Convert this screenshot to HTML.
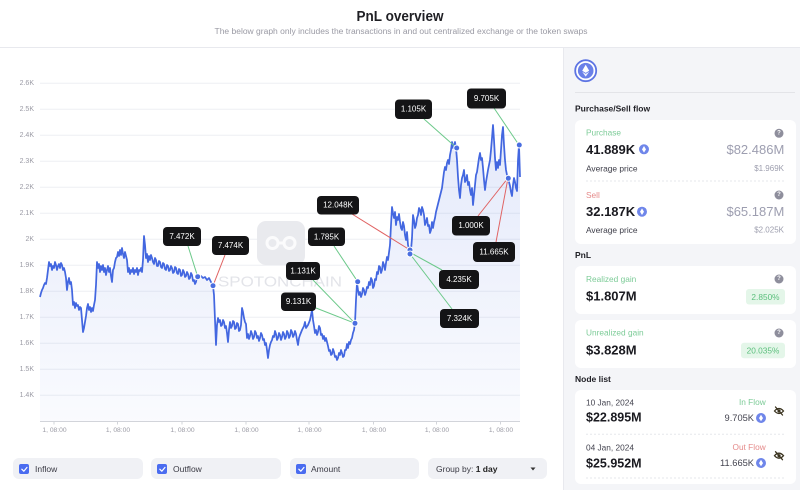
<!DOCTYPE html>
<html><head><meta charset="utf-8"><style>
html,body{margin:0;padding:0;background:#fff;}
svg{display:block;font-family:"Liberation Sans",sans-serif;}
</style></head><body>
<svg width="800" height="490" viewBox="0 0 800 490" xmlns="http://www.w3.org/2000/svg">
<defs>
<linearGradient id="ag" x1="0" y1="0" x2="0" y2="1">
<stop offset="0" stop-color="#4a6ee0" stop-opacity="0.15"/>
<stop offset="1" stop-color="#4a6ee0" stop-opacity="0.03"/>
</linearGradient>
</defs>
<rect width="800" height="490" fill="#fff"/>
<!-- header -->
<text x="400" y="17" text-anchor="middle" dominant-baseline="central" font-size="14.5" font-weight="bold" fill="#1f1f24" textLength="87" lengthAdjust="spacingAndGlyphs">PnL overview</text>
<text x="401" y="31.5" text-anchor="middle" dominant-baseline="central" font-size="8" fill="#9a9aa4" textLength="373" lengthAdjust="spacingAndGlyphs">The below graph only includes the transactions in and out centralized exchange or the token swaps</text>
<line x1="0" y1="47.5" x2="800" y2="47.5" stroke="#e8e9ee" stroke-width="1"/>

<!-- chart grid -->
<g stroke="#edeff3" stroke-width="1">
<line x1="40" x2="520" y1="83.3" y2="83.3"/><line x1="40" x2="520" y1="109.3" y2="109.3"/>
<line x1="40" x2="520" y1="135.3" y2="135.3"/><line x1="40" x2="520" y1="161.3" y2="161.3"/>
<line x1="40" x2="520" y1="187.3" y2="187.3"/><line x1="40" x2="520" y1="213.3" y2="213.3"/>
<line x1="40" x2="520" y1="239.3" y2="239.3"/><line x1="40" x2="520" y1="265.3" y2="265.3"/>
<line x1="40" x2="520" y1="291.3" y2="291.3"/><line x1="40" x2="520" y1="317.3" y2="317.3"/>
<line x1="40" x2="520" y1="343.3" y2="343.3"/><line x1="40" x2="520" y1="369.3" y2="369.3"/>
<line x1="40" x2="520" y1="395.3" y2="395.3"/>
</g>
<g font-size="7" fill="#9a9aa4" text-anchor="end" dominant-baseline="central">
<text x="34" y="83.3">2.6K</text><text x="34" y="109.3">2.5K</text><text x="34" y="135.3">2.4K</text>
<text x="34" y="161.3">2.3K</text><text x="34" y="187.3">2.2K</text><text x="34" y="213.3">2.1K</text>
<text x="34" y="239.3">2K</text><text x="34" y="265.3">1.9K</text><text x="34" y="291.3">1.8K</text>
<text x="34" y="317.3">1.7K</text><text x="34" y="343.3">1.6K</text><text x="34" y="369.3">1.5K</text>
<text x="34" y="395.3">1.4K</text>
</g>

<!-- watermark -->
<rect x="257" y="221" width="48" height="44" rx="9" fill="#e9eaee"/>
<g fill="none" stroke="#fbfbfc" stroke-width="3">
<circle cx="272.5" cy="243" r="5.5"/><circle cx="289.5" cy="243" r="5.5"/>
<line x1="278" y1="243" x2="284" y2="243"/>
</g>
<text x="218" y="282" dominant-baseline="central" font-size="15" fill="#e3e4e9" textLength="124" lengthAdjust="spacingAndGlyphs">SPOTONCHAIN</text>

<!-- area + line -->
<path fill="url(#ag)" stroke="none" d="M40,297 L41,293 42,290 43,288 44,285 45,283 46,284 47,278 48,270 49,262 50,266 51,264 52,270 53,266 54,268 55,262 56,265 57,270 58,266 59,264 60,268 61,263 62,265 63,270 64,268 65,272 66,278 67,290 68,282 69,278 70,284 71,282 72,290 73,305 74,302 75,308 76,303 77,306 78,305 79,310 80,307 81,308 82,320 83,332 84,328 85,322 86,316 87,308 88,304 89,310 90,307 91,312 92,308 93,311 94,305 95,300 96,285 97,262 98,268 99,264 100,272 101,266 102,270 103,265 104,272 105,268 106,275 107,270 108,266 109,272 110,268 111,276 112,282 113,270 114,268 115,262 116,258 117,257 118,252 119,256 120,250 121,255 122,248 123,254 124,258 125,252 126,256 127,260 128,272 129,268 130,274 131,270 132,272 133,268 134,274 135,270 136,272 137,268 138,275 139,270 140,271 141,268 142,272 143,260 144,236 145,245 146,258 147,254 148,262 149,256 150,260 152,258 154,264 156,260 158,266 160,262 162,268 164,264 166,270 168,266 170,270 172,268 174,272 176,268 178,274 180,270 182,275 184,272 186,276 188,274 190,278 192,275 194,280 196,282 197,277 199,278 201,276 203,278 205,277 207,280 209,278 211,282 213,286 214,295 215,320 216,345 217,325 218,318 219,322 220,320 222,325 224,322 226,326 228,342 229,330 230,322 232,326 234,322 236,328 238,324 240,330 241,325 242,308 243,312 244,318 245,322 246,324 247,338 248,334 250,336 252,334 254,337 256,333 258,336 260,338 262,335 264,339 266,343 267,350 268,358 269,350 270,345 272,340 274,337 276,334 278,338 280,335 282,337 284,334 286,337 288,333 290,336 292,332 294,335 296,334 298,345 299,338 300,335 302,330 304,326 305,322 306,328 308,325 310,320 311,315 312,310 313,320 314,326 316,330 318,332 320,328 322,334 324,336 326,338 327,342 328,346 330,350 332,354 334,352 336,356 338,358 340,355 342,353 344,356 346,350 348,348 350,344 352,338 354,330 355,323 356,300 357,283 358,290 359,295 360,292 362,294 364,290 366,292 368,288 370,285 372,280 374,286 376,280 378,274 380,267 382,270 384,265 386,263 388,260 390,245 391,225 392,207 393,213 394,218 396,225 398,220 400,222 402,230 404,226 405,235 406,240 408,245 410,252 411,250 412,238 413,215 414,220 416,225 418,215 420,210 422,207 424,215 426,222 427,218 429,225 431,230 433,228 435,218 437,208 439,200 441,192 442,188 443,180 444,172 445,167 446,170 448,160 450,155 451,150 452,142 453,148 454,145 456,148 457,160 458,177 459,190 460,198 461,185 462,178 463,175 465,182 466,180 468,185 470,190 471,195 473,205 474,195 475,185 476,175 478,165 480,153 481,160 483,168 484,180 485,190 486,182 488,170 490,160 491,150 492,138 493,125 494,140 495,158 496,170 498,168 500,165 501,150 502,135 503,127 504,145 505,160 506,170 507,175 508,178 509,182 510,186 511,192 512,196 513,185 514,178 515,182 516,188 517,191 518,160 519,145 520,177 L520,421 L40,421 Z"/>
<path fill="none" stroke="#4367e0" stroke-width="1.75" stroke-linejoin="round" d="M40,297 L41,293 42,290 43,288 44,285 45,283 46,284 47,278 48,270 49,262 50,266 51,264 52,270 53,266 54,268 55,262 56,265 57,270 58,266 59,264 60,268 61,263 62,265 63,270 64,268 65,272 66,278 67,290 68,282 69,278 70,284 71,282 72,290 73,305 74,302 75,308 76,303 77,306 78,305 79,310 80,307 81,308 82,320 83,332 84,328 85,322 86,316 87,308 88,304 89,310 90,307 91,312 92,308 93,311 94,305 95,300 96,285 97,262 98,268 99,264 100,272 101,266 102,270 103,265 104,272 105,268 106,275 107,270 108,266 109,272 110,268 111,276 112,282 113,270 114,268 115,262 116,258 117,257 118,252 119,256 120,250 121,255 122,248 123,254 124,258 125,252 126,256 127,260 128,272 129,268 130,274 131,270 132,272 133,268 134,274 135,270 136,272 137,268 138,275 139,270 140,271 141,268 142,272 143,260 144,236 145,245 146,258 147,254 148,262 149,256 150,260 151,255 152,258 153,262 154,264 155,258 156,260 157,266 158,266 159,261 160,262 161,267 162,268 163,263 164,264 165,269 166,270 167,265 168,266 169,271 170,270 171,266 172,268 173,273 174,272 175,267 176,268 177,273 178,274 179,269 180,270 181,276 182,275 183,270 184,272 185,277 186,276 187,272 188,274 189,279 190,278 191,273 192,275 193,281 194,280 195,284 196,282 197,277 199,278 201,276 203,278 205,277 207,280 209,278 211,282 213,286 214,295 215,320 216,345 217,325 218,318 219,322 220,320 221,326 222,325 223,320 224,322 225,328 226,326 227,333 228,342 229,330 230,322 231,328 232,326 233,321 234,322 235,329 236,328 237,323 238,324 239,331 240,330 241,325 242,308 243,312 244,318 245,322 246,324 247,338 248,334 249,339 250,336 251,331 252,334 253,339 254,337 255,331 256,333 257,338 258,336 259,341 260,338 261,333 262,335 263,340 264,339 265,345 266,343 267,350 268,358 269,350 270,345 271,342 272,340 273,336 274,337 275,331 276,334 277,340 278,338 279,333 280,335 281,340 282,337 283,332 284,334 285,339 286,337 287,331 288,333 289,338 290,336 291,330 292,332 293,337 294,335 295,331 296,334 297,340 298,345 299,338 300,335 302,330 304,326 305,322 306,328 308,325 310,320 311,315 312,310 313,320 314,326 315,333 316,330 317,335 318,332 319,326 320,328 321,335 322,334 323,339 324,336 325,341 326,338 327,342 328,346 329,351 330,350 331,355 332,354 333,349 334,352 335,357 336,356 337,360 338,358 339,353 340,355 341,350 342,353 343,357 344,356 345,350 346,350 347,344 348,348 349,342 350,344 351,340 352,338 353,333 354,330 355,323 356,300 357,283 358,290 359,295 360,292 361,297 362,294 363,288 364,290 365,295 366,292 367,287 368,288 369,282 370,285 371,278 372,280 373,288 374,286 375,279 376,280 377,272 378,274 379,266 380,267 381,273 382,270 383,262 384,265 385,270 386,263 387,257 388,260 390,245 391,225 392,207 393,213 394,218 395,212 396,225 397,217 398,220 399,214 400,222 401,228 402,230 403,222 404,226 405,235 406,240 407,232 408,245 410,252 411,250 412,238 413,215 414,220 415,228 416,225 417,218 418,215 419,208 420,210 421,215 422,207 423,210 424,215 425,225 426,222 427,218 428,226 429,225 430,233 431,230 432,222 433,228 434,222 435,218 436,212 437,208 438,204 439,200 440,196 441,192 442,188 443,180 444,172 445,167 446,170 447,163 448,160 449,164 450,155 451,150 452,142 453,148 454,145 455,142 456,148 457,160 458,177 459,190 460,198 461,185 462,178 463,175 464,170 465,182 466,180 467,175 468,185 469,182 470,190 471,195 472,188 473,205 474,195 475,185 476,175 477,172 478,165 479,158 480,153 481,160 482,158 483,168 484,180 485,190 486,182 487,176 488,170 489,165 490,160 491,150 492,138 493,125 494,140 495,158 496,170 497,162 498,168 499,160 500,165 501,150 502,135 503,127 504,145 505,160 506,170 507,175 508,178 509,182 510,186 511,192 512,196 513,185 514,178 515,182 516,188 517,191 518,160 519,145 520,177"/>

<!-- x axis -->
<line x1="40" y1="421.5" x2="520" y2="421.5" stroke="#d2d4da" stroke-width="1"/>
<g stroke="#d2d4da" stroke-width="1">
<line x1="54" x2="54" y1="421.5" y2="424.5"/><line x1="117.5" x2="117.5" y1="421.5" y2="424.5"/>
<line x1="182" x2="182" y1="421.5" y2="424.5"/><line x1="246" x2="246" y1="421.5" y2="424.5"/>
<line x1="309" x2="309" y1="421.5" y2="424.5"/><line x1="373.5" x2="373.5" y1="421.5" y2="424.5"/>
<line x1="436.5" x2="436.5" y1="421.5" y2="424.5"/><line x1="500.5" x2="500.5" y1="421.5" y2="424.5"/>
</g>
<g font-size="6.7" fill="#9a9aa4" text-anchor="middle" dominant-baseline="central">
<text x="54.5" y="430.5">1, 08:00</text><text x="118" y="430.5">1, 08:00</text>
<text x="182.5" y="430.5">1, 08:00</text><text x="246.5" y="430.5">1, 08:00</text>
<text x="309.5" y="430.5">1, 08:00</text><text x="374" y="430.5">1, 08:00</text>
<text x="437" y="430.5">1, 08:00</text><text x="501" y="430.5">1, 08:00</text>
</g>

<!-- annotation connectors -->
<g stroke-width="1" fill="none">
<line x1="188" y1="246" x2="197.7" y2="276.7" stroke="#6cc98a"/>
<line x1="225" y1="255" x2="213" y2="285.7" stroke="#e06262"/>
<line x1="352" y1="214" x2="410" y2="250" stroke="#e06262"/>
<line x1="334" y1="246" x2="357.7" y2="281.7" stroke="#6cc98a"/>
<line x1="313" y1="280" x2="355" y2="323.3" stroke="#6cc98a"/>
<line x1="316" y1="308" x2="355" y2="323.3" stroke="#6cc98a"/>
<line x1="413" y1="254" x2="442" y2="270" stroke="#6cc98a"/>
<line x1="410" y1="254" x2="452" y2="309" stroke="#6cc98a"/>
<line x1="478" y1="216" x2="508" y2="178" stroke="#e06262"/>
<line x1="496" y1="242" x2="508" y2="178" stroke="#e06262"/>
<line x1="424" y1="119" x2="456.7" y2="148" stroke="#6cc98a"/>
<line x1="494" y1="108" x2="519" y2="145" stroke="#6cc98a"/>
</g>
<!-- dots -->
<g fill="#4a6ee0" stroke="#fff" stroke-width="1">
<circle cx="197.7" cy="276.7" r="3"/><circle cx="213" cy="285.7" r="3"/>
<circle cx="355" cy="323.3" r="3"/><circle cx="357.7" cy="281.7" r="3"/>
<circle cx="410" cy="250" r="3"/><circle cx="410" cy="254" r="3"/>
<circle cx="456.7" cy="148" r="3"/><circle cx="508.3" cy="178.3" r="3"/>
<circle cx="519.3" cy="145" r="3"/>
</g>
<!-- labels -->
<g fill="#141416">
<rect x="163" y="227" width="38" height="19" rx="4"/>
<rect x="212" y="236" width="37" height="19" rx="4"/>
<rect x="317" y="196" width="42" height="18.5" rx="4"/>
<rect x="308" y="227.5" width="37" height="18.5" rx="4"/>
<rect x="286" y="262" width="34" height="18" rx="4"/>
<rect x="281" y="292.5" width="35" height="18.5" rx="4"/>
<rect x="439" y="270" width="40" height="19" rx="4"/>
<rect x="440" y="309" width="39" height="19" rx="4"/>
<rect x="452" y="216" width="38" height="19.5" rx="4"/>
<rect x="473" y="242" width="42" height="20" rx="4"/>
<rect x="395" y="99.5" width="37" height="19.5" rx="4"/>
<rect x="467" y="88.5" width="39" height="20" rx="4"/>
</g>
<g fill="#fff" font-size="8" text-anchor="middle" dominant-baseline="central">
<text x="182" y="236.5">7.472K</text>
<text x="230.5" y="245.5">7.474K</text>
<text x="338" y="205.2">12.048K</text>
<text x="326.5" y="236.8">1.785K</text>
<text x="303" y="271">1.131K</text>
<text x="298.5" y="301.7">9.131K</text>
<text x="459" y="279.5">4.235K</text>
<text x="459.5" y="318.5">7.324K</text>
<text x="471" y="225.7">1.000K</text>
<text x="494" y="252">11.665K</text>
<text x="413.5" y="109.2">1.105K</text>
<text x="486.5" y="98.5">9.705K</text>
</g>

<!-- bottom controls -->
<g fill="#f0f1f5">
<rect x="13" y="458" width="130" height="21" rx="6"/>
<rect x="151" y="458" width="130" height="21" rx="6"/>
<rect x="290" y="458" width="129" height="21" rx="6"/>
<rect x="428" y="458" width="119" height="21" rx="6"/>
</g>
<g fill="#4a6cf0">
<rect x="19" y="464" width="10" height="10" rx="2"/>
<rect x="157" y="464" width="10" height="10" rx="2"/>
<rect x="296" y="464" width="10" height="10" rx="2"/>
</g>
<g stroke="#fff" stroke-width="1.2" fill="none" stroke-linecap="round" stroke-linejoin="round">
<path d="M21.8 469.2 l2 2 l3.2 -3.8"/>
<path d="M159.8 469.2 l2 2 l3.2 -3.8"/>
<path d="M298.8 469.2 l2 2 l3.2 -3.8"/>
</g>
<g font-size="8.5" fill="#3a3a44" dominant-baseline="central">
<text x="35" y="469">Inflow</text>
<text x="173" y="469">Outflow</text>
<text x="311" y="469">Amount</text>
<text x="436" y="469">Group by: <tspan font-weight="bold" fill="#222">1 day</tspan></text>
</g>
<polygon points="530.5,467.5 535.5,467.5 533,470.5" fill="#333"/>

<!-- right panel -->
<rect x="563" y="48" width="237" height="442" fill="#f4f5f8"/>
<line x1="563.5" y1="48" x2="563.5" y2="490" stroke="#e8e9ee" stroke-width="1"/>
<!-- eth icon -->
<circle cx="585.7" cy="70.7" r="10.5" fill="#fff" stroke="#5d74e3" stroke-width="1.8"/>
<circle cx="585.7" cy="70.7" r="7.8" fill="#6a80e8"/>
<polygon points="585.7,64.8 589.2,70.8 585.7,72.9 582.2,70.8" fill="#fff"/>
<polygon points="582.2,71.8 585.7,73.9 589.2,71.8 585.7,76.6" fill="#fff" opacity="0.9"/>
<line x1="575" y1="92.5" x2="795" y2="92.5" stroke="#e3e4e8" stroke-width="1"/>

<g font-size="8.5" font-weight="bold" fill="#1e1e24" dominant-baseline="central">
<text x="575" y="108.3">Purchase/Sell flow</text>
<text x="575" y="255">PnL</text>
<text x="575" y="379">Node list</text>
</g>

<!-- cards -->
<g fill="#fff">
<rect x="575" y="120" width="221" height="124" rx="6"/>
<rect x="575" y="266" width="221" height="48" rx="6"/>
<rect x="575" y="320" width="221" height="48" rx="6"/>
<rect x="575" y="390" width="221" height="94" rx="6"/>
</g>
<g stroke="#e6e7eb" stroke-width="1" stroke-dasharray="2 2">
<line x1="586" y1="181" x2="784" y2="181"/>
<line x1="586" y1="434.3" x2="784" y2="434.3"/>
<line x1="586" y1="478" x2="784" y2="478"/>
</g>

<!-- question icons -->
<g fill="#8e8e9c">
<circle cx="779" cy="133.3" r="4.5"/><circle cx="779" cy="195" r="4.5"/>
<circle cx="779" cy="279" r="4.5"/><circle cx="779" cy="333" r="4.5"/>
</g>
<g fill="#fff" font-size="6" font-weight="bold" text-anchor="middle" dominant-baseline="central">
<text x="779" y="133.5">?</text><text x="779" y="195.2">?</text>
<text x="779" y="279.2">?</text><text x="779" y="333.2">?</text>
</g>

<!-- purchase/sell -->
<g dominant-baseline="central">
<text x="586" y="132.7" font-size="8.3" fill="#7ccb97">Purchase</text>
<text x="586" y="149.3" font-size="13" font-weight="bold" fill="#1a1a20">41.889K</text>
<text x="784.3" y="149.3" font-size="13" fill="#9d9eb0" text-anchor="end">$82.486M</text>
<text x="586" y="168.3" font-size="8.4" fill="#3d3d48">Average price</text>
<text x="784" y="168.3" font-size="8" fill="#9d9eae" text-anchor="end">$1.969K</text>
<text x="586" y="195" font-size="8.3" fill="#e58a8a">Sell</text>
<text x="586" y="211.7" font-size="13" font-weight="bold" fill="#1a1a20">32.187K</text>
<text x="784.3" y="211.7" font-size="13" fill="#9d9eb0" text-anchor="end">$65.187M</text>
<text x="586" y="230" font-size="8.4" fill="#3d3d48">Average price</text>
<text x="784" y="230" font-size="8" fill="#9d9eae" text-anchor="end">$2.025K</text>
</g>

<!-- small eth icons -->
<g>
<circle cx="644" cy="149.3" r="5" fill="#6f86ea"/>
<polygon points="644,146 646,149.4 644,152.6 642,149.4" fill="#fff"/>
<circle cx="642" cy="211.7" r="5" fill="#6f86ea"/>
<polygon points="642,208.4 644,211.8 642,215 640,211.8" fill="#fff"/>
<circle cx="761" cy="418" r="5" fill="#6f86ea"/>
<polygon points="761,414.7 763,418.1 761,421.3 759,418.1" fill="#fff"/>
<circle cx="761" cy="463" r="5" fill="#6f86ea"/>
<polygon points="761,459.7 763,463.1 761,466.3 759,463.1" fill="#fff"/>
</g>

<!-- pnl -->
<rect x="746" y="289" width="39" height="15.5" rx="3" fill="#e4f6e9"/>
<rect x="741" y="342.7" width="44" height="15.6" rx="3" fill="#e4f6e9"/>
<g dominant-baseline="central">
<text x="586" y="279" font-size="8.3" fill="#7ccb97">Realized gain</text>
<text x="586" y="296" font-size="13" font-weight="bold" fill="#1a1a20">$1.807M</text>
<text x="765.5" y="296.8" font-size="8.3" fill="#5bbf7c" text-anchor="middle">2.850%</text>
<text x="586" y="332.7" font-size="8.3" fill="#7ccb97">Unrealized gain</text>
<text x="586" y="350" font-size="13" font-weight="bold" fill="#1a1a20">$3.828M</text>
<text x="763" y="350.5" font-size="8.3" fill="#5bbf7c" text-anchor="middle">20.035%</text>
</g>

<!-- node list -->
<g dominant-baseline="central">
<text x="586" y="402.3" font-size="8.3" fill="#444450">10 Jan, 2024</text>
<text x="586" y="417.7" font-size="12.5" font-weight="bold" fill="#1a1a20">$22.895M</text>
<text x="765.7" y="402" font-size="8.3" fill="#7ccb97" text-anchor="end">In Flow</text>
<text x="754" y="418" font-size="9.3" fill="#444450" text-anchor="end">9.705K</text>
<text x="586" y="447.3" font-size="8.3" fill="#444450">04 Jan, 2024</text>
<text x="586" y="463.3" font-size="12.5" font-weight="bold" fill="#1a1a20">$25.952M</text>
<text x="765.7" y="447" font-size="8.3" fill="#e58a8a" text-anchor="end">Out Flow</text>
<text x="754" y="463" font-size="9.3" fill="#444450" text-anchor="end">11.665K</text>
</g>
<!-- eye-slash icons -->
<g stroke="#3b3420" stroke-width="1.3" fill="none" stroke-linecap="round">
<path d="M774.5 411 Q779 406 783.5 411 Q779 416 774.5 411 Z"/>
<line x1="775.5" y1="407" x2="782.5" y2="415"/>
<path d="M774.5 455.7 Q779 450.7 783.5 455.7 Q779 460.7 774.5 455.7 Z"/>
<line x1="775.5" y1="451.7" x2="782.5" y2="459.7"/>
</g>
<circle cx="779" cy="411" r="1.6" fill="#3b3420"/>
<circle cx="779" cy="455.7" r="1.6" fill="#3b3420"/>
</svg>
</body></html>
